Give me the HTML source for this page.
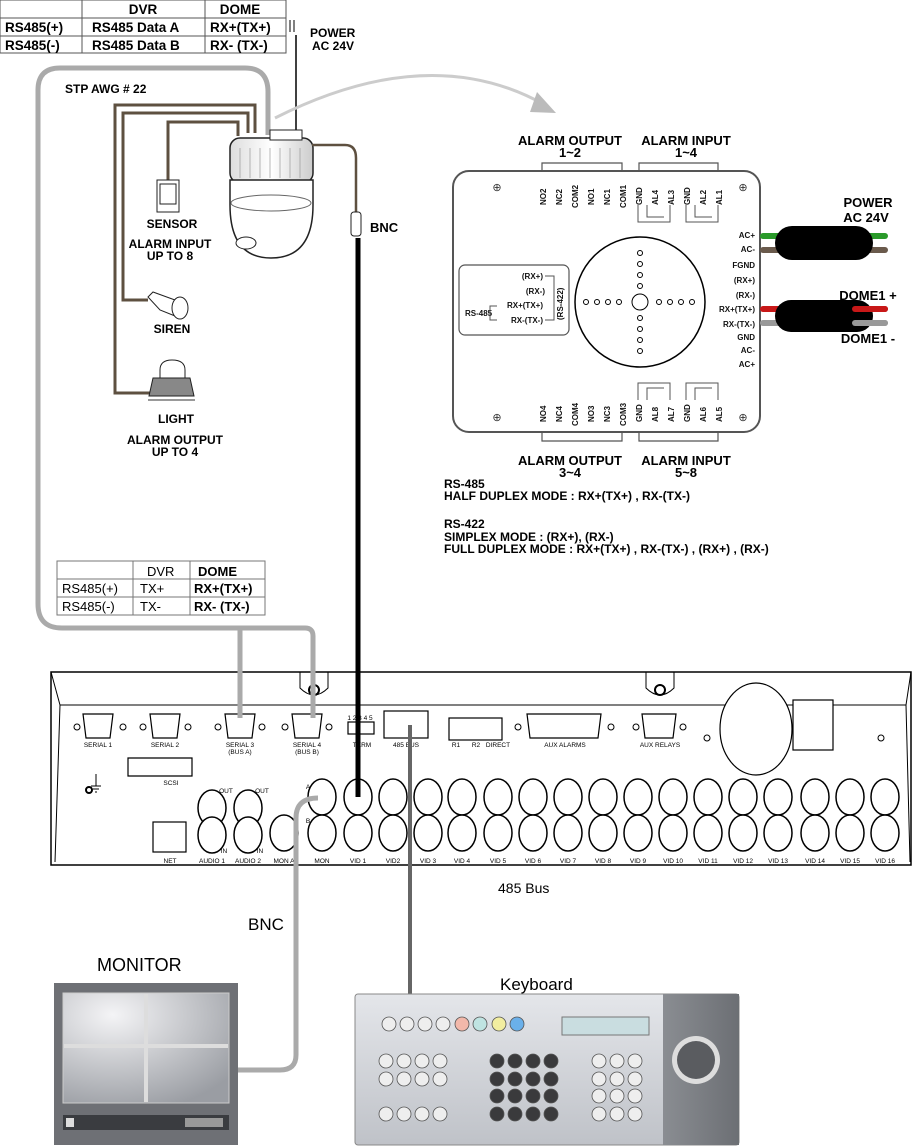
<!DOCTYPE html>
<html><head><meta charset="utf-8"><style>
html,body{margin:0;padding:0;background:#fff;}
svg{display:block;font-family:"Liberation Sans",Arial,sans-serif;}
</style></head><body>
<svg width="916" height="1147" viewBox="0 0 916 1147" xmlns="http://www.w3.org/2000/svg">
<defs>
<linearGradient id="kb" x1="0" y1="0" x2="0" y2="1"><stop offset="0" stop-color="#e4e6ea"/><stop offset="1" stop-color="#bfc2c8"/></linearGradient>
<linearGradient id="kbr" x1="0" y1="0" x2="1" y2="0"><stop offset="0" stop-color="#8a8d92"/><stop offset="1" stop-color="#6c6f74"/></linearGradient>
<radialGradient id="scr" cx="0.3" cy="0.2" r="0.9"><stop offset="0" stop-color="#f4f4f6"/><stop offset="1" stop-color="#9a9da3"/></radialGradient>
<linearGradient id="dome" x1="0" y1="0" x2="1" y2="0"><stop offset="0" stop-color="#ddd"/><stop offset="0.5" stop-color="#fff"/><stop offset="1" stop-color="#ccc"/></linearGradient>
</defs>

<!-- top table -->
<g font-weight="bold" font-size="13.5" fill="#000">
<rect x="0" y="0" width="286" height="53" fill="none" stroke="#555" stroke-width="1"/>
<line x1="0" y1="18" x2="286" y2="18" stroke="#555"/>
<line x1="0" y1="36" x2="286" y2="36" stroke="#555"/>
<line x1="82" y1="0" x2="82" y2="53" stroke="#555"/>
<line x1="205" y1="0" x2="205" y2="53" stroke="#555"/>
<text x="143" y="14" text-anchor="middle">DVR</text>
<text x="240" y="14" text-anchor="middle">DOME</text>
<text x="5" y="32">RS485(+)</text><text x="92" y="32">RS485 Data A</text><text x="210" y="32">RX+(TX+)</text>
<text x="5" y="50">RS485(-)</text><text x="92" y="50">RS485 Data B</text><text x="210" y="50">RX- (TX-)</text>
</g>
<line x1="290" y1="20" x2="290" y2="32" stroke="#000"/><line x1="294" y1="20" x2="294" y2="32" stroke="#000"/>
<line x1="296" y1="35" x2="296" y2="133" stroke="#000" stroke-width="1.5"/>
<text x="310" y="37" font-size="12" font-weight="bold">POWER</text>
<text x="312" y="50" font-size="12" font-weight="bold">AC 24V</text>

<!-- gray STP cable -->
<path d="M313,715 V636 Q313,628 305,628 H62 Q38,628 38,604 V90 Q38,68 60,68 H245 Q268,68 268,92 V135" fill="none" stroke="#aaa" stroke-width="5"/>
<path d="M240,715 V628" fill="none" stroke="#aaa" stroke-width="5"/>
<text x="65" y="93" font-size="12" font-weight="bold">STP AWG # 22</text>

<!-- brown alarm wires -->
<g fill="none" stroke="#5e5040" stroke-width="3">
<path d="M255,133 V105 H115 V393 H152"/>
<path d="M248,133 V113 H123 V300 H148"/>
<path d="M238,136 V122 H168 V182"/>
</g>
<!-- arrow arc -->
<path d="M275,118 Q430,40 545,105" fill="none" stroke="#ccc" stroke-width="3"/>
<path d="M537,92 L556,113 L530,112 Z" fill="#bbb"/>

<!-- dome -->
<rect x="230" y="138" width="83" height="45" rx="10" fill="url(#dome)" stroke="#222" stroke-width="1.5"/>
<g stroke="#999" stroke-width="0.7"><line x1="240" y1="148" x2="240" y2="178"/><line x1="250" y1="148" x2="250" y2="178"/><line x1="260" y1="148" x2="260" y2="178"/><line x1="270" y1="148" x2="270" y2="178"/><line x1="280" y1="148" x2="280" y2="178"/><line x1="290" y1="148" x2="290" y2="178"/><line x1="300" y1="148" x2="300" y2="178"/></g>
<rect x="270" y="130" width="32" height="10" fill="#fff" stroke="#222"/>
<path d="M230,180 V205 Q230,258 271,258 Q313,258 313,205 V180 Z" fill="#fff" stroke="#222" stroke-width="1.5"/>
<ellipse cx="271" cy="203" rx="40" ry="8" fill="none" stroke="#666"/>
<ellipse cx="246" cy="243" rx="10" ry="6" fill="#fff" stroke="#222"/>
<!-- BNC from dome -->
<path d="M312,145 H345 Q356,145 356,158 V212" fill="none" stroke="#5e5040" stroke-width="2.5"/>
<rect x="351" y="212" width="10" height="24" rx="3" fill="#fff" stroke="#222"/>
<line x1="358" y1="238" x2="358" y2="797" stroke="#000" stroke-width="5"/>
<text x="370" y="232" font-size="13" font-weight="bold">BNC</text>

<!-- sensor -->
<rect x="157" y="180" width="22" height="32" fill="#fff" stroke="#222"/><rect x="160" y="184" width="16" height="20" fill="#fff" stroke="#222"/>
<g font-size="12" font-weight="bold" text-anchor="middle">
<text x="172" y="228">SENSOR</text>
<text x="170" y="248">ALARM INPUT</text><text x="170" y="260">UP TO 8</text>
<text x="172" y="333">SIREN</text>
<text x="176" y="423">LIGHT</text>
<text x="175" y="444">ALARM OUTPUT</text><text x="175" y="456">UP TO 4</text>
</g>
<!-- siren -->
<path d="M148,297 L153,292 L175,300 L175,316 L160,310 Z" fill="#fff" stroke="#222"/><ellipse cx="180" cy="308" rx="8" ry="11" fill="#fff" stroke="#222"/>
<!-- light -->
<path d="M160,370 Q160,360 172,360 Q185,360 185,370 V378 H160 Z" fill="#fff" stroke="#222"/>
<path d="M153,378 H190 L194,396 H149 Z" fill="#888" stroke="#222"/>
<line x1="148" y1="400" x2="195" y2="400" stroke="#999" stroke-width="2"/>

<!-- panel -->
<g stroke="#555" fill="none">
<rect x="453" y="171" width="307" height="261" rx="16" stroke-width="2"/>
<rect x="459" y="265" width="110" height="70" rx="6" stroke-width="1.2"/>
<circle cx="640" cy="302" r="65" stroke="#000" stroke-width="1.5"/>
<circle cx="640" cy="302" r="8" stroke="#000"/>
<path d="M542,172 V163 H622 V172 M639,172 V163 H718 V172" stroke-width="1.2"/>
<path d="M638,205 V222 H670 V205 M647,205 V217 H664 M686,205 V222 H718 V205 M695,205 V217 H712"/>
<path d="M542,431 V441 H622 V431 M639,431 V441 H718 V431" stroke-width="1.2"/>
<path d="M638,400 V383 H670 V400 M647,400 V388 H664 M686,400 V383 H718 V400 M695,400 V388 H712"/>
</g>
<g fill="#fff" stroke="#000" stroke-width="1">
<circle cx="640" cy="253" r="2.5"/><circle cx="640" cy="264" r="2.5"/><circle cx="640" cy="275" r="2.5"/><circle cx="640" cy="286" r="2.5"/>
<circle cx="640" cy="318" r="2.5"/><circle cx="640" cy="329" r="2.5"/><circle cx="640" cy="340" r="2.5"/><circle cx="640" cy="351" r="2.5"/>
<circle cx="586" cy="302" r="2.5"/><circle cx="597" cy="302" r="2.5"/><circle cx="608" cy="302" r="2.5"/><circle cx="619" cy="302" r="2.5"/>
<circle cx="659" cy="302" r="2.5"/><circle cx="670" cy="302" r="2.5"/><circle cx="681" cy="302" r="2.5"/><circle cx="692" cy="302" r="2.5"/>
</g>
<g font-size="11" fill="#333" text-anchor="middle"><text x="497" y="191">⊕</text><text x="743" y="191">⊕</text><text x="497" y="421">⊕</text><text x="743" y="421">⊕</text></g>
<g font-size="8" font-weight="bold" fill="#111">
<g transform="rotate(-90)">
<text x="-205" y="546">NO2</text><text x="-205" y="562">NC2</text><text x="-208" y="578">COM2</text><text x="-205" y="594">NO1</text><text x="-205" y="610">NC1</text><text x="-208" y="626">COM1</text>
<text x="-205" y="642">GND</text><text x="-205" y="658">AL4</text><text x="-205" y="674">AL3</text><text x="-205" y="690">GND</text><text x="-205" y="706">AL2</text><text x="-205" y="722">AL1</text>
<text x="-422" y="546">NO4</text><text x="-422" y="562">NC4</text><text x="-426" y="578">COM4</text><text x="-422" y="594">NO3</text><text x="-422" y="610">NC3</text><text x="-426" y="626">COM3</text>
<text x="-422" y="642">GND</text><text x="-422" y="658">AL8</text><text x="-422" y="674">AL7</text><text x="-422" y="690">GND</text><text x="-422" y="706">AL6</text><text x="-422" y="722">AL5</text>
<text x="-320" y="563">(RS-422)</text>
</g>
<g text-anchor="end"><text x="755" y="238">AC+</text><text x="755" y="252">AC-</text><text x="755" y="268">FGND</text><text x="755" y="283">(RX+)</text><text x="755" y="298">(RX-)</text><text x="755" y="312">RX+(TX+)</text><text x="755" y="327">RX-(TX-)</text><text x="755" y="340">GND</text><text x="755" y="353">AC-</text><text x="755" y="367">AC+</text>
<text x="543" y="279">(RX+)</text><text x="545" y="294">(RX-)</text><text x="543" y="308">RX+(TX+)</text><text x="543" y="323">RX-(TX-)</text></g>
<text x="465" y="316">RS-485</text>
</g>
<path d="M545,276 H554 V320 H545 M497,306 H490 V320 H497" fill="none" stroke="#555"/>
<!-- power / dome cables -->
<g stroke-linecap="round">
<line x1="763" y1="236" x2="885" y2="236" stroke="#2a9a2a" stroke-width="6"/><line x1="763" y1="250" x2="885" y2="250" stroke="#6a5a4c" stroke-width="6"/>
<rect x="775" y="226" width="98" height="34" rx="17" fill="#000"/>
<line x1="763" y1="309" x2="885" y2="309" stroke="#c81818" stroke-width="6"/><line x1="763" y1="323" x2="885" y2="323" stroke="#999" stroke-width="6"/>
<rect x="775" y="300" width="98" height="32" rx="16" fill="#000"/>
<line x1="855" y1="309" x2="885" y2="309" stroke="#c81818" stroke-width="6"/><line x1="855" y1="323" x2="885" y2="323" stroke="#999" stroke-width="6"/>
</g>
<g font-size="13" font-weight="bold" text-anchor="middle">
<text x="868" y="207">POWER</text><text x="866" y="222">AC 24V</text>
<text x="868" y="300">DOME1 +</text><text x="868" y="343">DOME1 -</text>
<text x="570" y="145">ALARM OUTPUT</text><text x="570" y="157">1~2</text>
<text x="686" y="145">ALARM INPUT</text><text x="686" y="157">1~4</text>
<text x="570" y="465">ALARM OUTPUT</text><text x="570" y="477">3~4</text>
<text x="686" y="465">ALARM INPUT</text><text x="686" y="477">5~8</text>
</g>
<g font-size="12" font-weight="bold">
<text x="444" y="488">RS-485</text><text x="444" y="500">HALF DUPLEX MODE : RX+(TX+) , RX-(TX-)</text>
<text x="444" y="528">RS-422</text><text x="444" y="541">SIMPLEX MODE : (RX+), (RX-)</text><text x="444" y="553">FULL DUPLEX MODE :  RX+(TX+) , RX-(TX-) , (RX+) , (RX-)</text>
</g>

<!-- middle table -->
<g font-size="13">
<rect x="57" y="561" width="208" height="54" fill="#fff" stroke="#777"/>
<line x1="57" y1="579" x2="265" y2="579" stroke="#777"/><line x1="57" y1="597" x2="265" y2="597" stroke="#777"/>
<line x1="133" y1="561" x2="133" y2="615" stroke="#777"/><line x1="190" y1="561" x2="190" y2="615" stroke="#777"/>
<text x="147" y="576">DVR</text><text x="198" y="576" font-weight="bold">DOME</text>
<text x="62" y="593">RS485(+)</text><text x="140" y="593">TX+</text><text x="194" y="593" font-weight="bold">RX+(TX+)</text>
<text x="62" y="611">RS485(-)</text><text x="140" y="611">TX-</text><text x="194" y="611" font-weight="bold">RX- (TX-)</text>
</g>

<!-- DVR -->
<path d="M51,672 H911 V865 H51 Z" fill="#fff" stroke="#000" stroke-width="1.5"/>
<path d="M51,672 L60,705 H906 L911,672" fill="none" stroke="#000"/>
<path d="M60,705 L55,862 M906,705 L910,862" fill="none" stroke="#000"/>
<circle cx="314" cy="690" r="5" fill="none" stroke="#000" stroke-width="2"/><circle cx="660" cy="690" r="5" fill="none" stroke="#000" stroke-width="2"/>
<path d="M300,672 V688 Q314,702 328,688 V672 M646,672 V688 Q660,702 674,688 V672" fill="none" stroke="#000"/>
<g fill="#fff" stroke="#000" stroke-width="1.2">
<path d="M83,714 H113 L110,738 H86 Z"/><path d="M150,714 H180 L177,738 H153 Z"/><path d="M225,714 H255 L252,738 H228 Z"/><path d="M292,714 H322 L319,738 H295 Z"/>
<path d="M527,714 H601 L598,738 H530 Z"/><path d="M642,714 H676 L673,738 H645 Z"/>
<rect x="384" y="711" width="44" height="27"/><rect x="449" y="718" width="53" height="22"/>
<rect x="348" y="722" width="26" height="12"/>
<path d="M128,758 H192 V776 H128 Z"/>
<ellipse cx="756" cy="729" rx="36" ry="46"/><rect x="793" y="700" width="40" height="50"/>
<rect x="153" y="822" width="33" height="30"/>
</g>
<g fill="none" stroke="#000"><circle cx="77" cy="727" r="3"/><circle cx="123" cy="727" r="3"/><circle cx="143" cy="727" r="3"/><circle cx="188" cy="727" r="3"/><circle cx="218" cy="727" r="3"/><circle cx="262" cy="727" r="3"/><circle cx="285" cy="727" r="3"/><circle cx="329" cy="727" r="3"/><circle cx="518" cy="727" r="3"/><circle cx="611" cy="727" r="3"/><circle cx="636" cy="727" r="3"/><circle cx="683" cy="727" r="3"/><circle cx="707" cy="738" r="3"/><circle cx="881" cy="738" r="3"/><circle cx="89" cy="790" r="3" stroke-width="2"/></g>
<g font-size="6.5" text-anchor="middle" fill="#000">
<text x="98" y="747">SERIAL 1</text><text x="165" y="747">SERIAL 2</text><text x="240" y="747">SERIAL 3</text><text x="240" y="754">(BUS A)</text><text x="307" y="747">SERIAL 4</text><text x="307" y="754">(BUS B)</text>
<text x="360" y="720">1 2 3 4 5</text><text x="362" y="747">TERM</text><text x="406" y="747">485 BUS</text><text x="456" y="747">R1</text><text x="476" y="747">R2</text><text x="498" y="747">DIRECT</text>
<text x="565" y="747">AUX ALARMS</text><text x="660" y="747">AUX RELAYS</text><text x="171" y="785">SCSI</text>
<text x="170" y="863">NET</text><text x="212" y="863">AUDIO 1</text><text x="248" y="863">AUDIO 2</text><text x="284" y="863">MON A</text><text x="322" y="863">MON</text>
<text x="358" y="863">VID 1</text><text x="393" y="863">VID2</text><text x="428" y="863">VID 3</text><text x="462" y="863">VID 4</text><text x="498" y="863">VID 5</text><text x="533" y="863">VID 6</text><text x="568" y="863">VID 7</text><text x="603" y="863">VID 8</text><text x="638" y="863">VID 9</text><text x="673" y="863">VID 10</text><text x="708" y="863">VID 11</text><text x="743" y="863">VID 12</text><text x="778" y="863">VID 13</text><text x="815" y="863">VID 14</text><text x="850" y="863">VID 15</text><text x="885" y="863">VID 16</text>
<text x="226" y="793">OUT</text><text x="262" y="793">OUT</text><text x="224" y="853">IN</text><text x="260" y="853">IN</text><text x="308" y="789">A</text><text x="308" y="823">B</text>
</g>
<g fill="#fff" stroke="#000" stroke-width="1.5">
<ellipse cx="212" cy="808" rx="14" ry="18"/><ellipse cx="248" cy="808" rx="14" ry="18"/><ellipse cx="212" cy="835" rx="14" ry="18"/><ellipse cx="248" cy="835" rx="14" ry="18"/><ellipse cx="284" cy="833" rx="14" ry="18"/>
<ellipse cx="322" cy="797" rx="14" ry="18"/><ellipse cx="322" cy="833" rx="14" ry="18"/>
<ellipse cx="358" cy="797" rx="14" ry="18"/><ellipse cx="358" cy="833" rx="14" ry="18"/>
<ellipse cx="393" cy="797" rx="14" ry="18"/><ellipse cx="393" cy="833" rx="14" ry="18"/>
<ellipse cx="428" cy="797" rx="14" ry="18"/><ellipse cx="428" cy="833" rx="14" ry="18"/>
<ellipse cx="462" cy="797" rx="14" ry="18"/><ellipse cx="462" cy="833" rx="14" ry="18"/>
<ellipse cx="498" cy="797" rx="14" ry="18"/><ellipse cx="498" cy="833" rx="14" ry="18"/>
<ellipse cx="533" cy="797" rx="14" ry="18"/><ellipse cx="533" cy="833" rx="14" ry="18"/>
<ellipse cx="568" cy="797" rx="14" ry="18"/><ellipse cx="568" cy="833" rx="14" ry="18"/>
<ellipse cx="603" cy="797" rx="14" ry="18"/><ellipse cx="603" cy="833" rx="14" ry="18"/>
<ellipse cx="638" cy="797" rx="14" ry="18"/><ellipse cx="638" cy="833" rx="14" ry="18"/>
<ellipse cx="673" cy="797" rx="14" ry="18"/><ellipse cx="673" cy="833" rx="14" ry="18"/>
<ellipse cx="708" cy="797" rx="14" ry="18"/><ellipse cx="708" cy="833" rx="14" ry="18"/>
<ellipse cx="743" cy="797" rx="14" ry="18"/><ellipse cx="743" cy="833" rx="14" ry="18"/>
<ellipse cx="778" cy="797" rx="14" ry="18"/><ellipse cx="778" cy="833" rx="14" ry="18"/>
<ellipse cx="815" cy="797" rx="14" ry="18"/><ellipse cx="815" cy="833" rx="14" ry="18"/>
<ellipse cx="850" cy="797" rx="14" ry="18"/><ellipse cx="850" cy="833" rx="14" ry="18"/>
<ellipse cx="885" cy="797" rx="14" ry="18"/><ellipse cx="885" cy="833" rx="14" ry="18"/>
</g>
<line x1="358" y1="660" x2="358" y2="797" stroke="#000" stroke-width="5"/>
<path d="M240,628 V718 M313,636 V718" fill="none" stroke="#aaa" stroke-width="5"/>
<line x1="410" y1="725" x2="410" y2="994" stroke="#666" stroke-width="4"/>
<path d="M318,798 Q296,798 296,818 V1055 Q296,1070 280,1070 H238" fill="none" stroke="#aaa" stroke-width="5"/>
<text x="498" y="893" font-size="14">485 Bus</text>
<text x="248" y="930" font-size="17">BNC</text>
<text x="97" y="971" font-size="18">MONITOR</text>
<text x="500" y="990" font-size="17">Keyboard</text>

<!-- monitor -->
<rect x="54" y="983" width="184" height="162" fill="#6e7075"/>
<rect x="63" y="993" width="166" height="110" fill="url(#scr)" stroke="#ccc"/>
<line x1="146" y1="994" x2="146" y2="1102" stroke="#ddd" stroke-width="4"/><line x1="64" y1="1046" x2="228" y2="1046" stroke="#ddd" stroke-width="4"/>
<rect x="63" y="1115" width="166" height="15" fill="#3a3c40"/><rect x="66" y="1118" width="8" height="9" fill="#ddd"/><rect x="185" y="1118" width="38" height="9" fill="#999"/>

<!-- keyboard -->
<rect x="355" y="994" width="384" height="151" rx="3" fill="url(#kb)" stroke="#888"/>
<rect x="663" y="994" width="76" height="151" fill="url(#kbr)"/>
<circle cx="696" cy="1060" r="24" fill="#ddd"/><circle cx="696" cy="1060" r="19" fill="#5a5c60"/>
<rect x="562" y="1017" width="87" height="18" fill="#c9dde0" stroke="#777"/>
<g stroke="#555" stroke-width="0.8">
<circle cx="389" cy="1024" r="7" fill="#eee"/><circle cx="407" cy="1024" r="7" fill="#eee"/><circle cx="425" cy="1024" r="7" fill="#eee"/><circle cx="443" cy="1024" r="7" fill="#eee"/><circle cx="462" cy="1024" r="7" fill="#f2b8aa"/><circle cx="480" cy="1024" r="7" fill="#bfe4e2"/><circle cx="499" cy="1024" r="7" fill="#f2eea0"/><circle cx="517" cy="1024" r="7" fill="#6ab0ea"/>
<g fill="#eee"><circle cx="386" cy="1061" r="7"/><circle cx="404" cy="1061" r="7"/><circle cx="422" cy="1061" r="7"/><circle cx="440" cy="1061" r="7"/>
<circle cx="386" cy="1079" r="7"/><circle cx="404" cy="1079" r="7"/><circle cx="422" cy="1079" r="7"/><circle cx="440" cy="1079" r="7"/>
<circle cx="386" cy="1114" r="7"/><circle cx="404" cy="1114" r="7"/><circle cx="422" cy="1114" r="7"/><circle cx="440" cy="1114" r="7"/>
<circle cx="599" cy="1061" r="7"/><circle cx="617" cy="1061" r="7"/><circle cx="635" cy="1061" r="7"/>
<circle cx="599" cy="1079" r="7"/><circle cx="617" cy="1079" r="7"/><circle cx="635" cy="1079" r="7"/>
<circle cx="599" cy="1096" r="7"/><circle cx="617" cy="1096" r="7"/><circle cx="635" cy="1096" r="7"/>
<circle cx="599" cy="1114" r="7"/><circle cx="617" cy="1114" r="7"/><circle cx="635" cy="1114" r="7"/></g>
<g fill="#3a3a3c"><circle cx="497" cy="1061" r="7"/><circle cx="515" cy="1061" r="7"/><circle cx="533" cy="1061" r="7"/><circle cx="551" cy="1061" r="7"/>
<circle cx="497" cy="1079" r="7"/><circle cx="515" cy="1079" r="7"/><circle cx="533" cy="1079" r="7"/><circle cx="551" cy="1079" r="7"/>
<circle cx="497" cy="1096" r="7"/><circle cx="515" cy="1096" r="7"/><circle cx="533" cy="1096" r="7"/><circle cx="551" cy="1096" r="7"/>
<circle cx="497" cy="1114" r="7"/><circle cx="515" cy="1114" r="7"/><circle cx="533" cy="1114" r="7"/><circle cx="551" cy="1114" r="7"/></g>
</g>
<!-- ground symbol -->
<path d="M96,774 V786 M91,786 H101 M93,789 H99 M95,792 H97" stroke="#000" fill="none"/>
</svg>
</body></html>
